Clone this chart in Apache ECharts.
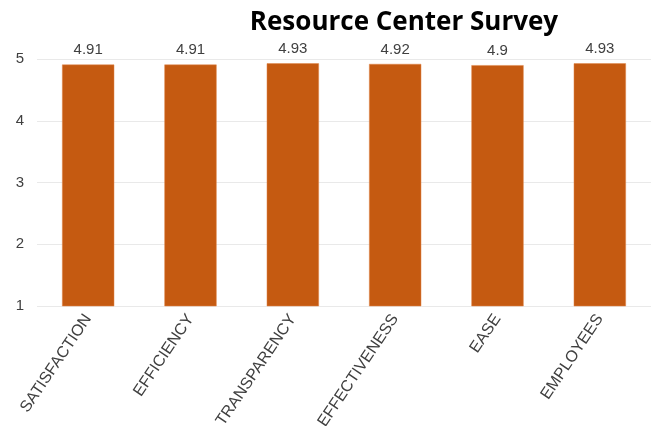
<!DOCTYPE html>
<html>
<head>
<meta charset="utf-8">
<script src="https://cdn.jsdelivr.net/npm/echarts@6/dist/echarts.min.js"></script>
<style>
  html, body { margin: 0; padding: 0; background: #ffffff; }
  #chart { width: 651px; height: 426px; }
</style>
</head>
<body>
<div id="chart"></div>
<script>
// Survey categories and their average scores
const categories = ['SATISFACTION', 'EFFICIENCY', 'TRANSPARENCY', 'EFFECTIVENESS', 'EASE', 'EMPLOYEES'];
const scores = [4.91, 4.91, 4.93, 4.92, 4.9, 4.93];
const yTicks = [1, 2, 3, 4, 5];

const chart = echarts.init(document.getElementById('chart'), null, { renderer: 'canvas' });

chart.setOption({
  animation: false,
  backgroundColor: '#ffffff',
  title: {
    text: 'Resource Center Survey',
    left: 399,
    top: 5,
    textAlign: 'center',
    textStyle: {
      fontFamily: 'Open Sans, Liberation Sans, sans-serif',
      fontWeight: 'bold',
      fontSize: 26,
      color: '#000000'
    }
  },
  grid: {
    left: 37, right: 0, top: 59, bottom: 120,
    containLabel: false,
    outerBoundsMode: 'none'
  },
  xAxis: {
    type: 'category',
    data: categories,
    axisLine: { show: false },
    axisTick: { show: false },
    axisLabel: {
      rotate: 56,
      interval: 0,
      margin: 10,
      fontFamily: 'Liberation Sans Narrow, Liberation Sans, sans-serif',
      fontSize: 16,
      color: '#404040'
    }
  },
  yAxis: {
    type: 'value',
    min: yTicks[0],
    max: yTicks[yTicks.length - 1],
    interval: 1,
    axisLine: { show: false },
    axisTick: { show: false },
    splitLine: { lineStyle: { color: '#e9e9e9', width: 1 } },
    axisLabel: {
      margin: 13,
      fontFamily: 'Liberation Sans Narrow, Liberation Sans, sans-serif',
      fontSize: 15,
      color: '#404040'
    }
  },
  series: [{
    type: 'bar',
    data: scores,
    barWidth: '51%',
    itemStyle: { color: '#C55A11', borderColor: '#E0864A', borderWidth: 0.5 },
    label: {
      show: true,
      position: 'top',
      distance: 7,
      fontFamily: 'Liberation Sans Narrow, Liberation Sans, sans-serif',
      fontSize: 15,
      color: '#404040'
    }
  }]
});
</script>
</body>
</html>
